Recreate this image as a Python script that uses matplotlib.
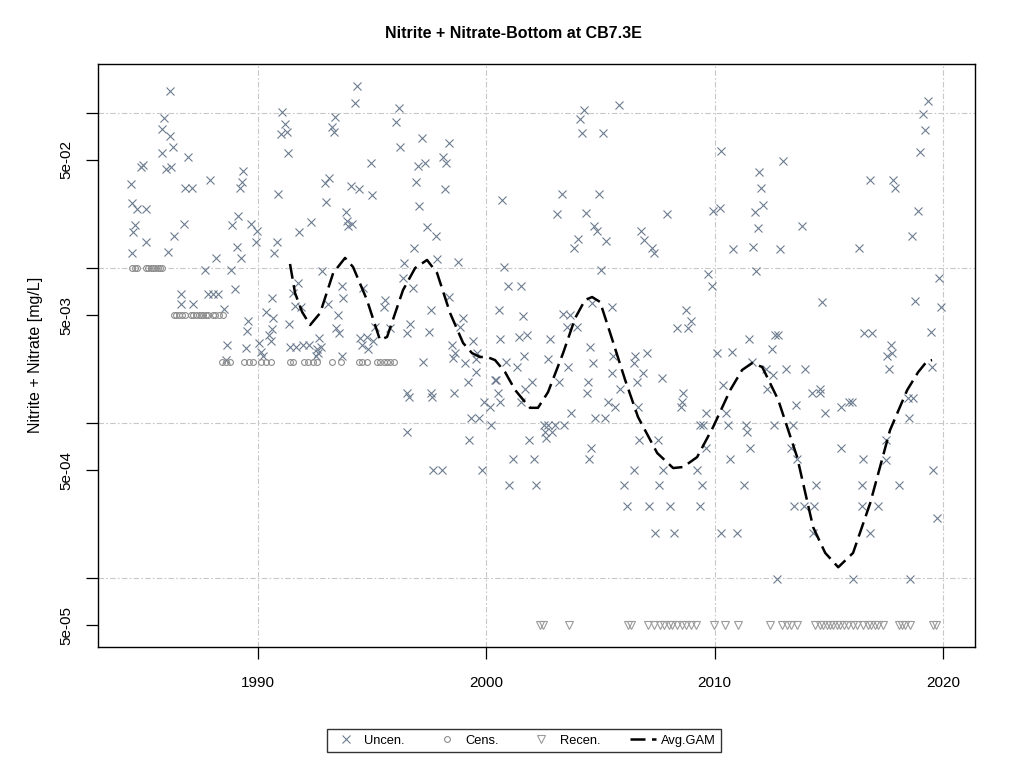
import matplotlib
matplotlib.use("Agg")
import matplotlib.pyplot as plt
from matplotlib.lines import Line2D

plt.rcParams['font.family'] = ['Liberation Sans', 'DejaVu Sans']

# uncensored observations, decimal year and mg/L
uncen_year_80s = [
    1986.15, 1985.88, 1985.80, 1986.15, 1986.28, 1985.80, 1986.93, 1984.88,
    1984.96, 1985.97, 1986.19, 1984.44, 1986.80, 1987.11, 1987.90, 1989.34,
    1989.30, 1989.21, 1984.48, 1984.70, 1985.09, 1984.61, 1984.52, 1985.09,
    1984.48, 1986.76, 1986.32, 1986.06, 1989.12, 1988.86, 1989.69, 1989.96,
    1989.91, 1989.08, 1989.26, 1988.16, 1987.68, 1988.82, 1988.99, 1986.63,
    1987.81, 1988.03, 1988.25, 1986.63, 1987.15, 1988.51, 1989.56, 1989.52,
    1988.64, 1989.47, 1988.60]
uncen_val_80s = [
    0.139, 0.093, 0.079, 0.071, 0.061, 0.0555, 0.0523, 0.045,
    0.0464, 0.0437, 0.045, 0.035, 0.033, 0.033, 0.0372, 0.0425,
    0.036, 0.033, 0.0264, 0.0241, 0.0241, 0.019, 0.0171, 0.0148,
    0.0126, 0.0193, 0.0162, 0.0128, 0.0218, 0.019, 0.0193, 0.0174,
    0.0148, 0.0137, 0.0117, 0.0117, 0.0098, 0.0098, 0.00735, 0.00685,
    0.00685, 0.00685, 0.00685, 0.0059, 0.0059, 0.00546, 0.00458, 0.00394,
    0.0032, 0.00307, 0.00256]

uncen_year_90s = [
    1994.34, 1994.25, 1991.05, 1996.18, 1991.18, 1991.27, 1991.01, 1991.31,
    1993.37, 1993.24, 1993.33, 1996.04, 1996.22, 1997.18, 1998.37, 1998.10,
    1998.23, 1997.01, 1997.31, 1994.95, 1996.92, 1998.19, 1997.05, 1992.93,
    1993.11, 1992.98, 1994.07, 1994.42, 1994.99, 1993.85, 1993.90, 1994.12,
    1993.94, 1992.32, 1991.80, 1990.88, 1990.83, 1990.70, 1997.40, 1997.80,
    1996.83, 1997.84, 1998.76, 1996.39, 1996.35, 1996.79, 1992.80, 1991.75,
    1991.53, 1991.62, 1991.88, 1990.61, 1993.68, 1993.72, 1994.60, 1993.07,
    1995.56, 1995.52, 1993.50, 1993.42, 1993.55, 1991.36, 1995.12, 1994.47,
    1994.77, 1995.04, 1995.78, 1996.66, 1996.53, 1997.49, 1997.58, 1998.37,
    1998.98, 1998.85, 1998.50, 1998.63, 1998.54, 1999.42, 1999.59, 1999.55,
    1999.07, 1999.55, 1999.20, 1997.23, 1990.35, 1990.66, 1990.61, 1990.48,
    1990.57, 1990.04, 1990.13, 1990.22, 1991.40, 1991.66, 1991.97, 1992.23,
    1992.58, 1992.63, 1992.55, 1992.67, 1992.76, 1993.68, 1994.55, 1994.82,
    1996.53, 1996.61, 1997.58, 1997.62, 1998.58, 1996.53, 1999.90, 1999.33,
    1999.68, 1999.24, 1997.67, 1998.06, 1999.81]
uncen_val_90s = [
    0.150, 0.117, 0.102, 0.108, 0.0854, 0.0758, 0.0736, 0.0555,
    0.0947, 0.0816, 0.0758, 0.088, 0.061, 0.0693, 0.0643, 0.0523,
    0.0478, 0.0458, 0.0478, 0.0478, 0.036, 0.0325, 0.0252, 0.0355,
    0.0383, 0.0268, 0.034, 0.0325, 0.0298, 0.0231, 0.0202, 0.0193,
    0.0188, 0.0199, 0.0171, 0.0302, 0.0148, 0.0126, 0.0185, 0.0162,
    0.0135, 0.0115, 0.011, 0.0109, 0.00867, 0.00746, 0.0096, 0.00805,
    0.00696, 0.0057, 0.0056, 0.0064, 0.0077, 0.0064, 0.0075, 0.0059,
    0.00625, 0.0056, 0.005, 0.0041, 0.0038, 0.00437, 0.0042, 0.00355,
    0.0036, 0.0034, 0.0041, 0.0044, 0.0038, 0.0039, 0.0054, 0.0065,
    0.0048, 0.0042, 0.0032, 0.00285, 0.00264, 0.0034, 0.00285, 0.0026,
    0.00245, 0.00214, 0.00184, 0.0025, 0.0052, 0.0048, 0.00405, 0.0037,
    0.0034, 0.0033, 0.0029, 0.0027, 0.0031, 0.0031, 0.0032, 0.0032,
    0.003, 0.00285, 0.0027, 0.00355, 0.0031, 0.0027, 0.0032, 0.003,
    0.00156, 0.00147, 0.00156, 0.00147, 0.00156, 0.00088, 0.00137, 0.00109,
    0.00109, 0.00078, 0.0005, 0.0005, 0.0005]

uncen_year_00s = [
    2019.32, 2019.14, 2019.23, 2019.01, 2005.83, 2004.29, 2004.12, 2004.20,
    2005.12, 2010.29, 2013.01, 2011.96, 2012.04, 2012.13, 2011.78, 2011.91,
    2013.84, 2016.82, 2017.83, 2017.91, 2018.92, 2018.66, 2016.34, 2012.88,
    2011.69, 2010.82, 2009.94, 2010.21, 2000.70, 2003.29, 2004.95, 2003.11,
    2004.38, 2007.93, 2004.73, 2004.86, 2006.79, 2006.92, 2007.27, 2007.36,
    2005.26, 2004.03, 2003.85, 2005.04, 2000.79, 2000.96, 2001.53, 2009.72,
    2009.86, 2011.81, 2019.84, 2014.72, 2018.79, 2019.93, 2019.49, 2000.57,
    2001.62, 2000.61, 2001.45, 2001.80, 2001.66, 2000.88, 2001.36, 2000.39,
    2002.01, 2002.80, 2002.72, 2003.37, 2003.68, 2003.55, 2003.99, 2004.64,
    2005.48, 2004.56, 2003.59, 2004.69, 2003.20, 2004.47, 2005.56, 2005.52,
    2006.53, 2006.48, 2007.05, 2006.88, 2006.61, 2007.67, 2008.76, 2008.94,
    2008.37, 2008.85, 2010.12, 2010.77, 2011.52, 2012.66, 2012.79, 2012.53,
    2011.65, 2012.26, 2012.57, 2013.13, 2013.96, 2016.56, 2016.91, 2017.70,
    2017.56, 2017.78, 2017.65, 2019.53, 2010.38, 2004.42, 2003.72, 2005.34,
    2005.65, 2004.77, 2005.21, 2002.54, 2002.72, 2003.02, 2003.42, 2002.58,
    2002.89, 2002.63, 2002.10, 2002.19, 2004.60, 2004.51, 2005.87, 2006.66,
    2008.63, 2008.58, 2008.54, 2009.64, 2009.37, 2009.50, 2009.64, 2009.24,
    2006.70, 2007.53, 2006.48, 2007.75, 2006.04, 2007.58, 2009.46, 2006.18,
    2007.14, 2008.06, 2009.37, 2007.40, 2008.23, 2010.29, 2010.99, 2012.31,
    2013.58, 2014.28, 2014.59, 2014.85, 2015.55, 2015.86, 2016.03, 2010.51,
    2010.60, 2011.39, 2011.43, 2011.56, 2010.69, 2011.30, 2012.61, 2013.45,
    2013.32, 2013.62, 2015.51, 2016.51, 2014.45, 2016.43, 2018.09, 2013.49,
    2013.93, 2014.37, 2016.47, 2017.13, 2014.32, 2016.78, 2012.75, 2016.07,
    2018.57, 2018.48, 2018.70, 2018.53, 2017.52, 2017.52, 2019.58, 2019.75,
    2014.63, 2000.22, 2000.44, 2000.53, 2000.61, 2001.71, 2001.53, 2001.18,
    2001.01, 2001.88, 2000.16]
uncen_val_00s = [
    0.120, 0.099, 0.078, 0.0563, 0.113, 0.105, 0.092, 0.075,
    0.075, 0.0571, 0.0493, 0.0418, 0.033, 0.0256, 0.0231, 0.0182,
    0.0188, 0.0372, 0.0372, 0.033, 0.0235, 0.0162, 0.0135, 0.0133,
    0.0137, 0.0133, 0.0235, 0.0245, 0.0276, 0.0302, 0.0302, 0.0224,
    0.0227, 0.0224, 0.0188, 0.0174, 0.0174, 0.0152, 0.0135, 0.0126,
    0.015, 0.0155, 0.0135, 0.0098, 0.0102, 0.0077, 0.0077, 0.0092,
    0.0077, 0.0096, 0.0087, 0.00605, 0.0062, 0.0056, 0.0039, 0.0054,
    0.0049, 0.0035, 0.0036, 0.0037, 0.0027, 0.0025, 0.0023, 0.0019,
    0.00184, 0.0035, 0.0026, 0.0051, 0.005, 0.0042, 0.0042, 0.006,
    0.0056, 0.0031, 0.0023, 0.00245, 0.00184, 0.00184, 0.0027, 0.0021,
    0.0027, 0.00245, 0.00285, 0.0021, 0.00184, 0.00196, 0.0054, 0.0046,
    0.0041, 0.0041, 0.00285, 0.0029, 0.0035, 0.0037, 0.0037, 0.003,
    0.0025, 0.00224, 0.00205, 0.00224, 0.00224, 0.0038, 0.0038, 0.0032,
    0.0027, 0.00285, 0.00224, 0.0023, 0.00177, 0.00156, 0.00117, 0.00137,
    0.00128, 0.00109, 0.00109, 0.00098, 0.00098, 0.00098, 0.00098, 0.00088,
    0.00088, 0.0008, 0.00059, 0.0004, 0.00069, 0.00059, 0.00166, 0.00128,
    0.00156, 0.00137, 0.00128, 0.00117, 0.00098, 0.00098, 0.00069, 0.0005,
    0.00078, 0.00078, 0.0005, 0.0005, 0.0004, 0.0004, 0.0004, 0.000294,
    0.000294, 0.000294, 0.000294, 0.000197, 0.000197, 0.000197, 0.000197, 0.00166,
    0.00131, 0.00156, 0.00158, 0.00117, 0.00128, 0.00137, 0.00137, 0.00117,
    0.00098, 0.00098, 0.00088, 0.00069, 0.00059, 0.0004, 0.00098, 0.00098,
    0.00069, 0.00059, 0.00069, 0.00059, 0.0004, 0.0004, 0.0004, 0.000294,
    0.000294, 0.000294, 0.000294, 0.000294, 0.000197, 0.000197, 0.0000985, 0.0000985,
    0.0000985, 0.00145, 0.00145, 0.00109, 0.00078, 0.00058, 0.0005, 0.000247,
    0.00166, 0.00098, 0.0019, 0.00156, 0.00137, 0.00166, 0.00137, 0.00059,
    0.0004, 0.00078, 0.00128]

# censored observations (plotted at detection limit)
cens_year = [
    1984.50, 1984.60, 1984.70, 1985.10, 1985.20, 1985.30, 1985.40, 1985.50,
    1985.60, 1985.70, 1985.78,
    1986.30, 1986.42, 1986.55, 1986.68, 1986.78, 1987.07, 1987.17, 1987.28,
    1987.40, 1987.50, 1987.60, 1987.70, 1987.80, 1988.02, 1988.12, 1988.30,
    1988.45,
    1988.42, 1988.60, 1988.75, 1989.40, 1989.60, 1989.80, 1990.15, 1990.35,
    1990.55, 1991.40, 1991.55, 1992.00, 1992.20, 1992.40, 1992.60, 1993.25,
    1993.65, 1994.40, 1994.55, 1994.75, 1995.20, 1995.35, 1995.50, 1995.65,
    1995.80, 1995.95]
cens_val = [0.01] * 11 + [0.005] * 17 + [0.0025] * 26

# recensored observations
recen_year = [
    2002.35, 2002.50, 2003.60, 2006.20, 2006.35, 2007.10, 2007.35, 2007.60,
    2007.80, 2008.00, 2008.15, 2008.35, 2008.55, 2008.75, 2008.95, 2009.20,
    2009.95, 2010.45, 2011.00, 2012.40, 2012.95, 2013.15, 2013.35, 2013.60,
    2014.40, 2014.60, 2014.75, 2014.90, 2015.05, 2015.20, 2015.35, 2015.50,
    2015.65, 2015.85, 2016.05, 2016.25, 2016.50, 2016.70, 2016.85, 2017.00,
    2017.15, 2017.35, 2018.05, 2018.20, 2018.35, 2018.55, 2019.55, 2019.70]
recen_val = [5e-5] * len(recen_year)

# averaged GAM fit
gam_year = [
    1991.40, 1991.62, 1991.93, 1992.28, 1992.72, 1993.29, 1993.81, 1994.16,
    1994.77, 1995.34, 1995.65, 1996.35, 1996.88, 1997.40, 1997.84, 1998.41,
    1998.98, 1999.37, 1999.72, 2000.03, 2000.38, 2000.82, 2001.26, 2001.61,
    2001.91, 2002.26, 2002.70, 2003.36, 2003.89, 2004.32, 2004.63, 2004.98,
    2005.42, 2006.08, 2006.64, 2007.48, 2008.18, 2008.62, 2009.23, 2009.93,
    2010.68, 2011.20, 2011.64, 2012.08, 2012.78, 2013.61, 2014.31, 2014.84,
    2015.41, 2016.06, 2016.81, 2017.68, 2018.43, 2018.91, 2019.30, 2019.52]
gam_val = [
    0.01067, 0.00693, 0.00523, 0.00431, 0.00515, 0.00933, 0.01167, 0.01021,
    0.00625, 0.00345, 0.00361, 0.00725, 0.01005, 0.01132, 0.00933, 0.00515,
    0.00330, 0.00284, 0.00268, 0.00268, 0.00256, 0.00214, 0.00164, 0.00142,
    0.00126, 0.00126, 0.00159, 0.00284, 0.00478, 0.00625, 0.00653, 0.00607,
    0.00383, 0.00190, 0.00110, 0.000644, 0.000515, 0.000523, 0.000606, 0.000947,
    0.00164, 0.00221, 0.00245, 0.00231, 0.00142, 0.000606, 0.000214, 0.000146,
    0.000118, 0.000146, 0.000306, 0.000906, 0.00164, 0.00214, 0.00252, 0.00256]

x_ticks = [1990, 2000, 2010, 2020]
y_grid = [1e-1, 1e-2, 1e-3, 1e-4]
y_label_ticks = [5e-2, 5e-3, 5e-4, 5e-5]
y_tick_labels = ['5e-02', '5e-03', '5e-04', '5e-05']

uncen_year = uncen_year_80s + uncen_year_90s + uncen_year_00s
uncen_val = uncen_val_80s + uncen_val_90s + uncen_val_00s

cross_col = '#6d7c90'
circ_col = '#8e8e8e'
tri_col = '#9a9a9a'
grid_col = '#c8c8c8'
gam_style = (0, (6, 2.6))

fig = plt.figure(figsize=(10.24, 7.68), dpi=100)
ax = fig.add_axes([98 / 1024, 121 / 768, 877 / 1024, 583 / 768])
ax.set_yscale('log')

for x in x_ticks:
    ax.axvline(x, color=grid_col, lw=0.8, ls=(0, (5, 2, 1.5, 2)), zorder=0)
for y in y_grid:
    ax.axhline(y, color=grid_col, lw=0.8, ls=(0, (5, 2, 1.5, 2)), zorder=0)

ax.plot(uncen_year, uncen_val, ls='none', marker='x', ms=5.3, mew=0.8, color=cross_col, zorder=2)
ax.plot(cens_year, cens_val, ls='none', marker='o', ms=4.2, mew=0.8, mfc='none', mec=circ_col, zorder=2)
ax.plot(recen_year, recen_val, ls='none', marker='v', ms=5.8, mew=0.8, mfc='none', mec=tri_col, zorder=2)
ax.plot(gam_year, gam_val, color='black', lw=1.8, ls=gam_style, zorder=3)

ax.set_xlim(1982.99, 2021.40)
ax.set_ylim(3.61e-5, 0.208)

ax.set_xticks(x_ticks)
ax.set_xticklabels([str(v) for v in x_ticks], fontsize=11)
ax.set_yticks(y_grid)
ax.set_yticklabels([''] * len(y_grid))
ax.set_yticks(y_label_ticks, minor=True)
ax.set_yticklabels(y_tick_labels, minor=True, fontsize=11)
for lbl in ax.get_yticklabels(minor=True):
    lbl.set_rotation(90)
    lbl.set_va('center')

ax.tick_params(axis='x', which='both', length=8.6, width=0.9, direction='out', pad=12)
ax.tick_params(axis='y', which='both', length=8.6, width=0.9, direction='out', pad=9)
for sp in ax.spines.values():
    sp.set_linewidth(1.0)
    sp.set_color('black')

fig.text(513 / 1024, 1 - 33 / 768, 'Nitrite + Nitrate-Bottom at CB7.3E',
         ha='center', va='center', fontsize=11.5, fontweight='bold')
fig.text(36 / 1024, 1 - 355 / 768, 'Nitrite + Nitrate [mg/L]', rotation=90,
         ha='center', va='center', fontsize=11.5)

handles = [
    Line2D([], [], ls='none', marker='x', ms=5.3, mew=0.8, color=cross_col),
    Line2D([], [], ls='none', marker='o', ms=4.2, mew=0.8, mfc='none', mec=circ_col),
    Line2D([], [], ls='none', marker='v', ms=5.8, mew=0.8, mfc='none', mec=tri_col),
    Line2D([], [], color='black', lw=1.8, ls=gam_style),
]
leg = fig.legend(handles, ['Uncen.', 'Cens.', 'Recen.', 'Avg.GAM'],
                 loc='center', bbox_to_anchor=(0.512, 1 - 740.5 / 768), ncol=4,
                 frameon=True, fancybox=False, edgecolor='black', fontsize=9.3,
                 handlelength=2, handletextpad=0.4, columnspacing=2.3,
                 borderpad=0.45)
leg.get_frame().set_linewidth(1.0)

fig.savefig('out.png', dpi=100)
